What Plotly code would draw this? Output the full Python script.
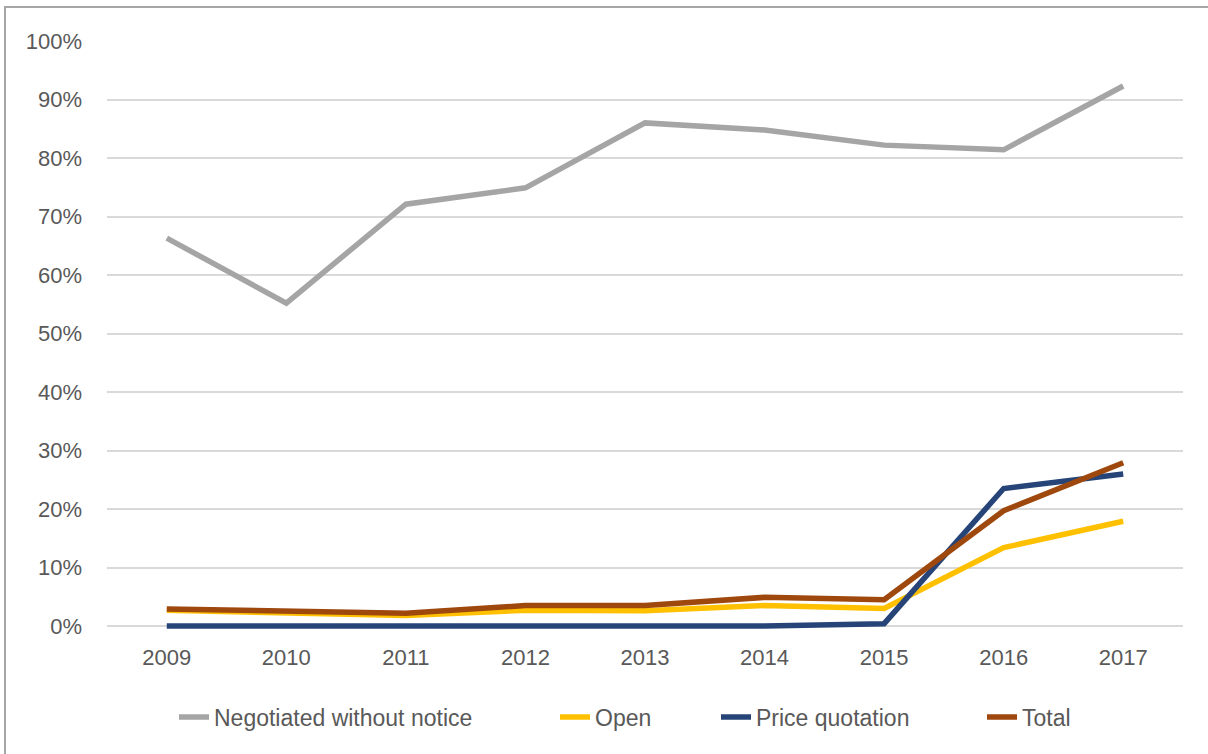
import plotly.graph_objects as go

years = ["2009", "2010", "2011", "2012", "2013", "2014", "2015", "2016", "2017"]
negotiated = [0.663, 0.552, 0.721, 0.749, 0.860, 0.848, 0.822, 0.814, 0.923]
open_ = [0.027, 0.023, 0.018, 0.027, 0.026, 0.035, 0.030, 0.134, 0.179]
price = [0.0, 0.0, 0.0, 0.0, 0.0, 0.0, 0.004, 0.235, 0.260]
total = [0.029, 0.026, 0.022, 0.035, 0.035, 0.049, 0.045, 0.197, 0.279]

series = [
    ("Negotiated without notice", negotiated, "#A5A5A5"),
    ("Open", open_, "#FFC000"),
    ("Price quotation", price, "#264478"),
    ("Total", total, "#9E480E"),
]

W, H = 1208, 754
ml, mr, mt, mb = 107, 25, 41, 124
pw, ph = W - ml - mr, H - mt - mb
zero_px = 626
y_low = -(mt + ph - zero_px) / (zero_px - mt)

def px_x(x):
    return (x - ml) / pw

def px_y(y):
    return 1 - (y - mt) / ph

legend_text_starts = [216, 597, 758, 1024]
legend_names = ["legend", "legend2", "legend3", "legend4"]

fig = go.Figure()
for (name, vals, color), lg in zip(series, legend_names):
    fig.add_trace(go.Scatter(x=years, y=vals, name=name, mode="lines",
                             cliponaxis=False, legend=lg,
                             line=dict(color=color, width=5.5)))

legend_common = dict(orientation="h", xanchor="left", yanchor="middle", y=px_y(717),
                     font=dict(size=23, color="#595959"), bgcolor="rgba(0,0,0,0)",
                     borderwidth=0)
legends = {}
for lg, tx in zip(legend_names, legend_text_starts):
    legends[lg] = dict(legend_common, x=px_x(tx - 42))

fig.update_layout(
    width=W, height=H,
    margin=dict(l=ml, r=mr, t=mt, b=mb),
    paper_bgcolor="white", plot_bgcolor="white",
    font=dict(family="Liberation Sans, Arial, sans-serif", color="#595959", size=21),
    xaxis=dict(type="category", range=[-0.5, 8.5], showgrid=False, zeroline=False,
               showline=False, ticks="", ticklabelstandoff=12,
               tickfont=dict(size=22, color="#595959")),
    yaxis=dict(range=[y_low, 1.0], tickformat=".0%", tickmode="linear", tick0=0, dtick=0.1,
               showgrid=True, gridcolor="#D9D9D9", gridwidth=1.5, zeroline=False,
               showline=False, ticks="", ticklabelstandoff=24,
               tickfont=dict(size=22, color="#595959")),
    showlegend=True,
    shapes=[dict(type="rect", xref="paper", yref="paper",
                 x0=px_x(5), x1=px_x(1215), y0=px_y(7), y1=px_y(770),
                 line=dict(color="#A6A6A6", width=2), fillcolor="rgba(0,0,0,0)",
                 layer="below")],
    **legends,
)

fig.write_html("out.html")
